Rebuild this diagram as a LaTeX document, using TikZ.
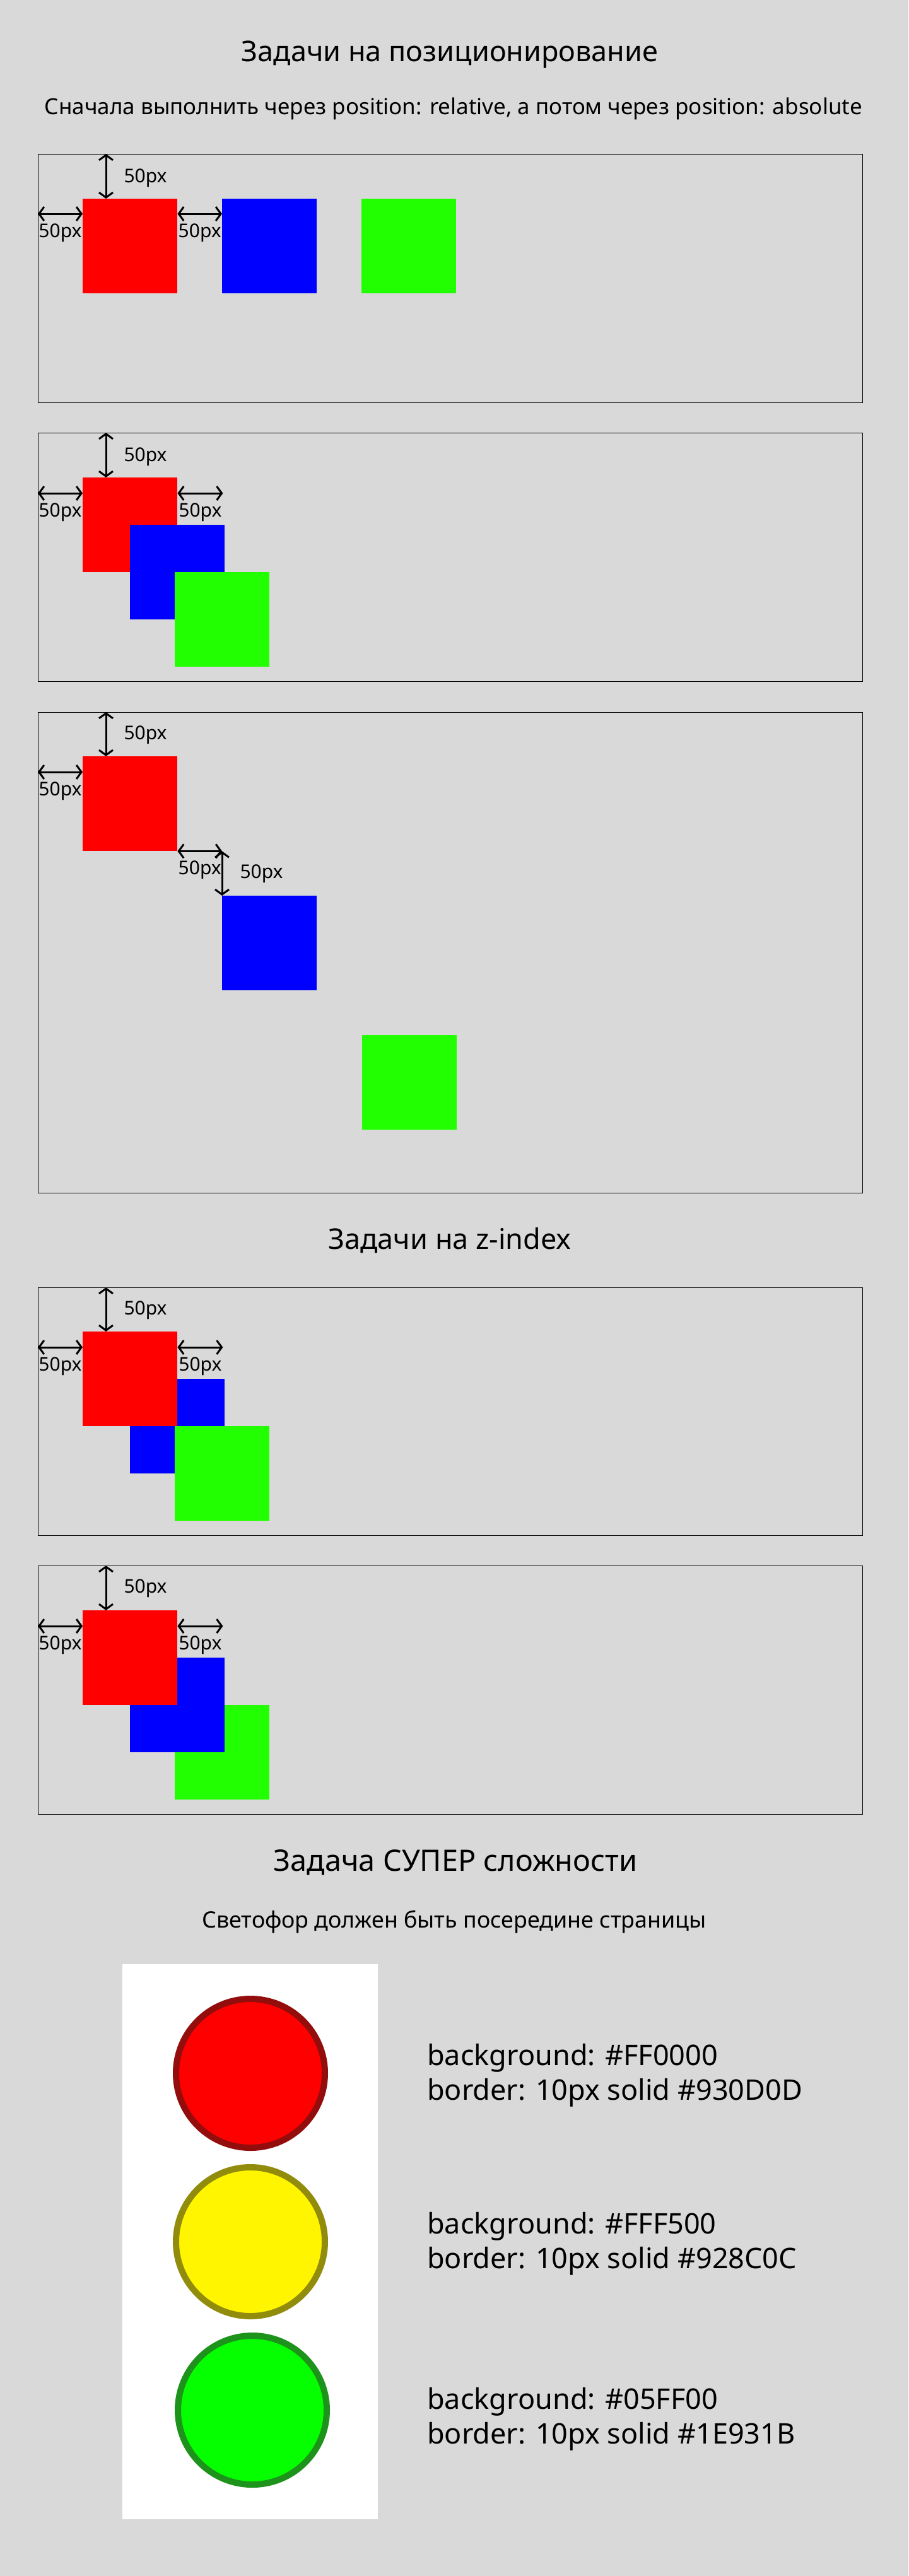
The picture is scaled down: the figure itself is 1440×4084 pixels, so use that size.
\documentclass[tikz,border=0pt]{standalone}
\usepackage{fontspec}
\setmainfont{Noto Sans}
\usetikzlibrary{arrows.meta, positioning, calc}
\definecolor{pagebg}{HTML}{D9D9D9}
\definecolor{sqred}{HTML}{FF0000}
\definecolor{sqblue}{HTML}{0000FF}
\definecolor{sqgreen}{HTML}{22FF00}
\definecolor{lampred}{HTML}{FF0000}
\definecolor{rimred}{HTML}{930D0D}
\definecolor{lampyellow}{HTML}{FFF500}
\definecolor{rimyellow}{HTML}{928C0C}
\definecolor{lampgreen}{HTML}{05FF00}
\definecolor{rimgreen}{HTML}{1E931B}

\begin{document}
\begin{tikzpicture}[
        x=1pt, y=-1pt,
        % Рамки, квадраты и размерные стрелки
        frame/.style={draw=black, line width=1.2pt, minimum width=1307pt, inner sep=0pt, anchor=north west},
        sq/.style={minimum size=150pt, inner sep=0pt, anchor=north west},
        dim/.style={<->, >={Straight Barb[length=8pt,width=22pt]}, line width=3pt},
        lbl/.style={font=\fontsize{30}{36}\selectfont, inner sep=0pt},
        heading/.style={font=\fontsize{45}{54}\selectfont},
        note/.style={font=\fontsize{35}{42}\selectfont},
        lamp/.style={circle, line width=10pt, minimum size=236pt, inner sep=0pt},
        spec/.style={font=\fontsize{45}{55}\selectfont, align=left, anchor=west, inner sep=0pt}
    ]
        \fill[pagebg] (0,0) rectangle (1440,4084);
        \useasboundingbox (0,0) rectangle (1440,4084);

        % Заголовки
        \node[heading] (title) at (713,87) {Задачи на позиционирование};
        \node[note] (task) at (719,172) {Сначала выполнить через position: relative, а потом через position: absolute};

        % Блок 1
        \node[frame, minimum height=394pt] (f1) at (60,244) {};
        \node[sq, fill=sqred] (r1) at (131,315) {};
        \node[sq, fill=sqblue] (b1) at (352,315) {};
        \node[sq, fill=sqgreen] (g1) at (573,315) {};
        \coordinate (v1) at ([xshift=37pt]r1.north west);
        \coordinate (h1) at ([yshift=-24pt]r1.north west);
        \draw[dim] (v1 |- f1.north) -- node[lbl, right=27pt, yshift=-3pt] {50px} (v1);
        \draw[dim] (h1 -| f1.west) -- node[lbl, below=14pt] {50px} (h1);
        \draw[dim] (h1 -| r1.east) -- node[lbl, below=14pt] {50px} (h1 -| b1.west);

        % Блок 2
        \node[frame, minimum height=394pt] (f2) at (60,686) {};
        \node[sq, fill=sqred] (r2) at (131,757) {};
        \node[sq, fill=sqblue] (b2) at (206,832) {};
        \node[sq, fill=sqgreen] (g2) at (277,907) {};
        \coordinate (v2) at ([xshift=37pt]r2.north west);
        \coordinate (h2) at ([yshift=-25pt]r2.north west);
        \path (h2 -| r2.east) ++(72,0) coordinate (k2);
        \draw[dim] (v2 |- f2.north) -- node[lbl, right=27pt, yshift=-3pt] {50px} (v2);
        \draw[dim] (h2 -| f2.west) -- node[lbl, below=14pt] {50px} (h2);
        \draw[dim] (h2 -| r2.east) -- node[lbl, below=14pt] {50px} (k2);

        % Блок 3
        \node[frame, minimum height=762pt] (f3) at (60,1129) {};
        \node[sq, fill=sqred] (r3) at (131,1199) {};
        \node[sq, fill=sqblue] (b3) at (352,1420) {};
        \node[sq, fill=sqgreen] (g3) at (574,1641) {};
        \coordinate (v3) at ([xshift=37pt]r3.north west);
        \coordinate (h3) at ([yshift=-25pt]r3.north west);
        \coordinate (c3) at (r3.south east -| b3.west);
        \draw[dim] (v3 |- f3.north) -- node[lbl, right=27pt, yshift=-1pt] {50px} (v3);
        \draw[dim] (h3 -| f3.west) -- node[lbl, below=14pt] {50px} (h3);
        \draw[dim] (r3.south east) -- node[lbl, below=14pt] {50px} (c3);
        \draw[dim] (c3) -- node[lbl, right=27pt, yshift=-1pt] {50px} (b3.north west);

        \node[heading] (ztitle) at (713,1967) {Задачи на z-index};

        % Блок 4: синий снизу
        \node[frame, minimum height=393pt] (f4) at (60,2041) {};
        \node[sq, fill=sqblue] (b4) at (206,2186) {};
        \node[sq, fill=sqred] (r4) at (131,2111) {};
        \node[sq, fill=sqgreen] (g4) at (277,2261) {};
        \coordinate (v4) at ([xshift=37pt]r4.north west);
        \coordinate (h4) at ([yshift=-25pt]r4.north west);
        \path (h4 -| r4.east) ++(72,0) coordinate (k4);
        \draw[dim] (v4 |- f4.north) -- node[lbl, right=27pt, yshift=-1pt] {50px} (v4);
        \draw[dim] (h4 -| f4.west) -- node[lbl, below=14pt] {50px} (h4);
        \draw[dim] (h4 -| r4.east) -- node[lbl, below=14pt] {50px} (k4);

        % Блок 5: зелёный снизу
        \node[frame, minimum height=394pt] (f5) at (60,2482) {};
        \node[sq, fill=sqgreen] (g5) at (277,2703) {};
        \node[sq, fill=sqblue] (b5) at (206,2628) {};
        \node[sq, fill=sqred] (r5) at (131,2553) {};
        \coordinate (v5) at ([xshift=37pt]r5.north west);
        \coordinate (h5) at ([yshift=-25pt]r5.north west);
        \path (h5 -| r5.east) ++(72,0) coordinate (k5);
        \draw[dim] (v5 |- f5.north) -- node[lbl, right=27pt, yshift=-1pt] {50px} (v5);
        \draw[dim] (h5 -| f5.west) -- node[lbl, below=14pt] {50px} (h5);
        \draw[dim] (h5 -| r5.east) -- node[lbl, below=14pt] {50px} (k5);

        % Светофор
        \node[heading, font=\fontsize{46.8}{56}\selectfont] (stitle) at (722,2953) {Задача СУПЕР сложности};
        \node[note, font=\fontsize{35.8}{43}\selectfont] (stask) at (720,3047) {Светофор должен быть посередине страницы};
        \node[fill=white, minimum width=405pt, minimum height=880pt, inner sep=0pt, anchor=north west] (housing) at (194,3114) {};
        \node[lamp, fill=lampred, draw=rimred] (lr) at (397,3287) {};
        \node[lamp, fill=lampyellow, draw=rimyellow] (ly) at (397,3554) {};
        \node[lamp, fill=lampgreen, draw=rimgreen] (lg) at (400,3821) {};
        \node[spec] (sr) at (677,3290) {background: \#FF0000\\border: 10px solid \#930D0D};
        \node[spec] (sy) at (677,3557) {background: \#FFF500\\border: 10px solid \#928C0C};
        \node[spec] (sg) at (677,3835) {background: \#05FF00\\border: 10px solid \#1E931B};

    \end{tikzpicture}
\end{document}
